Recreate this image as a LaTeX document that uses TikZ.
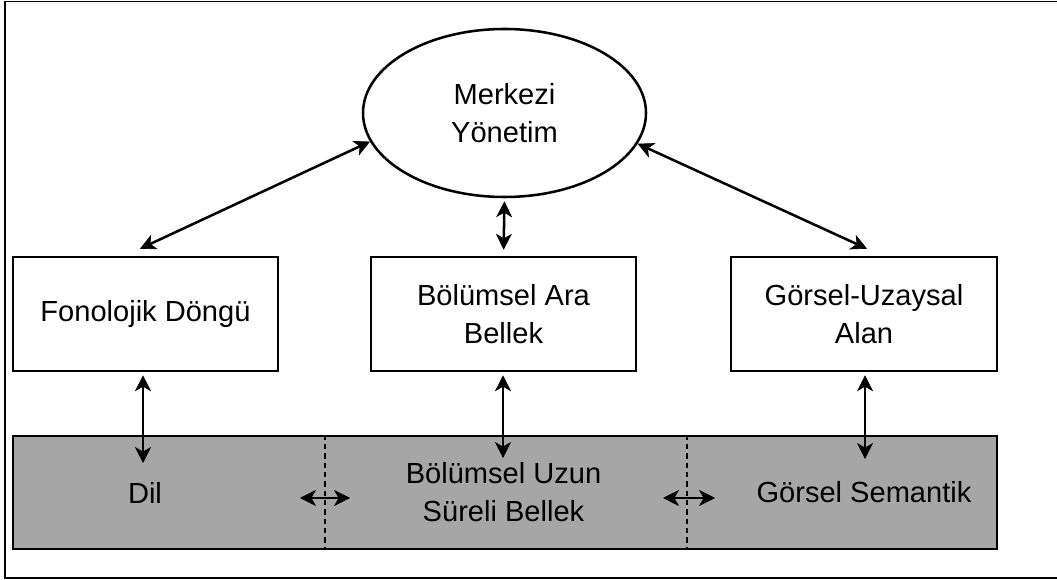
\documentclass[tikz,border=0pt]{standalone}
\usepackage{fontspec}
\setmainfont{Liberation Sans}
\usetikzlibrary{shapes.geometric,arrows.meta,calc}
\definecolor{ltmgray}{HTML}{A6A6A6}
\begin{document}
\begin{tikzpicture}[x=0.75pt,y=-0.75pt,
  lbl/.style={font=\fontsize{21.8}{28.5}\selectfont, align=center, text=black},
  unit/.style={draw, line width=1.9pt, fill=white, inner sep=0pt,
    minimum width=198.75pt, minimum height=85.5pt, lbl},
  ctrl/.style={draw, ellipse, line width=1.9pt, fill=white, inner sep=0pt,
    minimum width=212.25pt, minimum height=126pt, lbl},
  store/.style={draw, line width=1.9pt, fill=ltmgray, inner sep=0pt,
    minimum width=738pt, minimum height=84.75pt},
  head/.tip={Stealth[length=12pt,width=12pt,inset=3.5pt,line width=0.5pt,fill=black]},
  dbl/.style={line width=1.9pt, head-head},
  divider/.style={line width=1.1pt, dash pattern=on 4pt off 3pt},
  frame/.style={line width=1.4pt, draw=black}
]
\useasboundingbox (0,0) rectangle (1057,580);

% outer frame (open on the right)
\draw[frame] (1060,1.5) -- (5,1.5) -- (5,578) -- (1060,578);

% central executive
\node[ctrl] (mk) at (504.5,113) {Merkezi\\Yönetim};

% slave systems
\node[unit] (fon) at (145.5,314) {Fonolojik Döngü};
\node[unit] (epi) at (503.5,314) {Bölümsel Ara\\Bellek};
\node[unit, minimum width=199.5pt] (vis) at (864,314) {Görsel-Uzaysal\\Alan};

% long-term memory band
\node[store] (ltm) at (505,492.5) {};
\node[lbl] (dil) at (145,492.5) {Dil};
\node[lbl] (epl) at (503.5,492.5) {Bölümsel Uzun\\Süreli Bellek};
\node[lbl] (sem) at (864,492.5) {Görsel Semantik};

% dashed dividers inside the band
\coordinate (d1) at (325,0);
\coordinate (d2) at (687,0);
\draw[divider] (d1 |- ltm.north) -- (d1 |- ltm.south);
\draw[divider] (d2 |- ltm.north) -- (d2 |- ltm.south);

% executive <-> slave systems
\coordinate (a1) at ($(fon.north)+(-5.5,-7)$);
\coordinate (a3) at ($(vis.north)+(3,-7)$);
\draw[dbl] (mk.192) -- (a1);
\draw[dbl] (mk.347) -- (a3);
\draw[dbl, shorten <=2.25pt, shorten >=4.5pt] (mk.south) -- (epi.north);

% slave systems <-> long-term memory
\coordinate (l1) at (143,463);
\coordinate (l2) at (503,458);
\coordinate (l3) at (865,459);
\draw[dbl, shorten <=2.25pt] (fon.south -| l1) -- (l1);
\draw[dbl, shorten <=2.25pt] (epi.south -| l2) -- (l2);
\draw[dbl, shorten <=2.25pt] (vis.south -| l3) -- (l3);

% exchange across the band
\coordinate (h1a) at (300,498);
\coordinate (h1b) at (350,498);
\coordinate (h2a) at (663,498);
\coordinate (h2b) at (715,498);
\draw[dbl] (h1a) -- (h1b);
\draw[dbl] (h2a) -- (h2b);
\end{tikzpicture}
\end{document}
